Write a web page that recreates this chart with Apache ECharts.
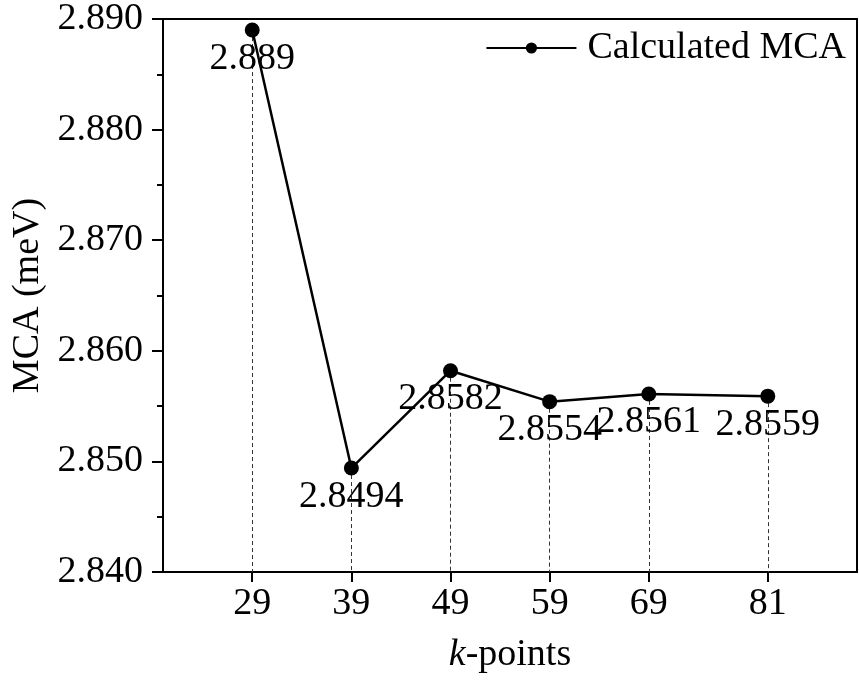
<!DOCTYPE html>
<html>
<head>
<meta charset="utf-8">
<script src="https://cdn.jsdelivr.net/npm/echarts@6/dist/echarts.min.js"></script>
<style>html,body{margin:0;padding:0;background:#fff}#c{width:859px;height:682px}</style>
</head>
<body>
<div id="c"></div>
<script>
const kPoints = [29, 39, 49, 59, 69, 81];
const mcaValues = [2.889, 2.8494, 2.8582, 2.8554, 2.8561, 2.8559];
const mcaLabels = ['2.889', '2.8494', '2.8582', '2.8554', '2.8561', '2.8559'];
const seriesName = 'Calculated MCA';
const yMin = 2.84, yMax = 2.89, yStep = 0.01;

const FONT = '"Liberation Serif", "Times New Roman", serif';
const FS = 38;
const chart = echarts.init(document.getElementById('c'), null, {renderer: 'canvas'});

const points = kPoints.map((k, i) => [k, mcaValues[i]]);
const dropLines = points.map(p => [{coord: [p[0], p[1]]}, {coord: [p[0], yMin]}]);

chart.setOption({
  animation: false,
  backgroundColor: '#fff',
  textStyle: {fontFamily: FONT, color: '#000'},
  grid: {left: 163, right: 2, top: 13, bottom: 110, show: true, borderColor: '#000', borderWidth: 2, containLabel: false},
  legend: {
    right: 8, top: 24,
    itemWidth: 90, itemHeight: 14, itemGap: 10,
    textStyle: {fontFamily: FONT, fontSize: FS, color: '#000', padding: [0, 0, 0, 6]},
    data: [seriesName],
  },
  xAxis: {
    type: 'value', min: 20, max: 90,
    name: '{i|k}-points', nameLocation: 'middle', nameGap: 64,
    nameTextStyle: {fontFamily: FONT, fontSize: FS, color: '#000', rich: {i: {fontFamily: FONT, fontSize: FS, fontStyle: 'italic', color: '#000'}}},
    axisLine: {show: true, onZero: false, lineStyle: {color: '#000', width: 2}},
    axisTick: {show: true, length: 10, lineStyle: {color: '#000', width: 2}, customValues: kPoints},
    axisLabel: {fontFamily: FONT, fontSize: FS, color: '#000', margin: 13, customValues: kPoints},
    splitLine: {show: false},
  },
  yAxis: {
    type: 'value', min: yMin, max: yMax, interval: yStep,
    name: 'MCA (meV)', nameLocation: 'middle', nameGap: 116, nameRotate: 90,
    nameTextStyle: {fontFamily: FONT, fontSize: FS, color: '#000'},
    axisLine: {show: true, lineStyle: {color: '#000', width: 2}},
    axisTick: {show: true, length: 11, lineStyle: {color: '#000', width: 2}},
    minorTick: {show: true, splitNumber: 2, length: 6, lineStyle: {color: '#000', width: 2}},
    axisLabel: {fontFamily: FONT, fontSize: FS, color: '#000', margin: 20, formatter: v => v.toFixed(3)},
    splitLine: {show: false},
  },
  series: [{
    name: seriesName,
    type: 'line',
    data: points,
    symbol: 'circle', symbolSize: 15,
    itemStyle: {color: '#000'},
    lineStyle: {color: '#000', width: 2.5},
    label: {
      show: true, position: 'bottom', distance: 2,
      fontFamily: FONT, fontSize: FS, color: '#000',
      formatter: p => mcaLabels[p.dataIndex],
    },
    markLine: {
      silent: true, symbol: 'none', label: {show: false},
      lineStyle: {color: '#333', width: 1, type: [4, 3]},
      data: dropLines,
      z: 1,
    },
    z: 3,
  }],
});
</script>
</body>
</html>
